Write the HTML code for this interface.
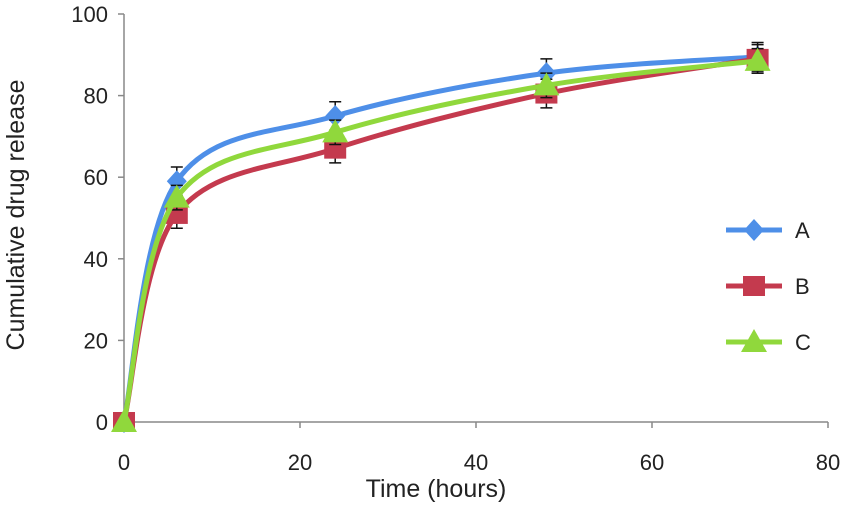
<!DOCTYPE html>
<html><head><meta charset="utf-8"><style>
body{margin:0;background:#fff;}
svg{display:block;font-family:"Liberation Sans",sans-serif;}
</style></head><body>
<svg id="chart" width="855" height="515"></svg>
<script>
const timePoints=[0,6,24,48,72];
const seriesNames=['A','B','C'];
const seriesA=[0,59,75,85.5,89.5];
const seriesB=[0,51,67,80.5,89];
const seriesC=[0,55,71,82.5,88.5];
const errA=[0,3.5,3.5,3.5,3.5];
const errB=[0,3.5,3.5,3.5,3.5];
const errC=[0,3,3,3,3];
const xTicks=[0,20,40,60,80];
const yTicks=[0,20,40,60,80,100];
const NS='http://www.w3.org/2000/svg';
const svg=document.getElementById('chart');
const X0=124,XW=704,Y0=422,YH=408;
const xs=v=>X0+v/80*XW, ys=v=>Y0-v/100*YH;
function mk(t,a,p){const e=document.createElementNS(NS,t);for(const k in a)e.setAttribute(k,a[k]);(p||svg).appendChild(e);return e;}
let ax=mk('line',{x1:X0,y1:14,x2:X0,y2:Y0,stroke:'#888','stroke-width':1.5});

let bx=mk('line',{x1:X0,y1:Y0,x2:X0+XW,y2:Y0,stroke:'#888','stroke-width':1.5});

yTicks.forEach(v=>{mk('line',{x1:X0-6,y1:ys(v),x2:X0,y2:ys(v),stroke:'#888','stroke-width':1.5});
 const t=mk('text',{x:X0-16,y:ys(v)+8,'text-anchor':'end','font-size':22,fill:'#222'});t.textContent=v;
 });
xTicks.forEach(v=>{mk('line',{x1:xs(v),y1:Y0,x2:xs(v),y2:Y0+6,stroke:'#888','stroke-width':1.5});
 const t=mk('text',{x:xs(v),y:470,'text-anchor':'middle','font-size':22,fill:'#222'});t.textContent=v;
 });
let xt=mk('text',{x:436,y:497,'text-anchor':'middle','font-size':25,fill:'#222'});xt.textContent='Time (hours)';

let yt=mk('text',{x:0,y:0,'text-anchor':'middle','font-size':25,fill:'#222',transform:'translate(24,215) rotate(-90)'});yt.textContent='Cumulative drug release';

const colors=['#4e8fe8','#c43a4e','#90d83c'];
const all=[seriesA,seriesB,seriesC], errs=[errA,errB,errC];
function path(pts){let d=`M${pts[0][0]},${pts[0][1]}`;for(let i=0;i<pts.length-1;i++){const p0=pts[Math.max(i-1,0)],p1=pts[i],p2=pts[i+1],p3=pts[Math.min(i+2,pts.length-1)];
 d+=` C${p1[0]+(p2[0]-p0[0])/6},${p1[1]+(p2[1]-p0[1])/6} ${p2[0]-(p3[0]-p1[0])/6},${p2[1]-(p3[1]-p1[1])/6} ${p2[0]},${p2[1]}`;}return d;}
function marker(k,x,y,g){if(k==0)return mk('polygon',{points:`${x},${y-11} ${x+10},${y} ${x},${y+11} ${x-10},${y}`,fill:colors[0]},g);
 if(k==1)return mk('rect',{x:x-11,y:y-10,width:22,height:20,fill:colors[1]},g);
 return mk('polygon',{points:`${x},${y-13} ${x+13},${y+10} ${x-13},${y+10}`,fill:colors[2]},g);}
all.forEach((s,k)=>{const g=mk('g',{});
 s.forEach((v,i)=>{const x=xs(timePoints[i]);const e=errs[k][i];
  mk('path',{d:`M${x},${ys(v-e)}V${ys(v+e)}M${x-6},${ys(v-e)}h12M${x-6},${ys(v+e)}h12`,stroke:'#111','stroke-width':1.5,fill:'none'},g);});
 mk('path',{d:path(s.map((v,i)=>[xs(timePoints[i]),ys(v)])),stroke:colors[k],'stroke-width':5,fill:'none'},g);
 s.forEach((v,i)=>{const m=marker(k,xs(timePoints[i]),ys(v),g);});
 const ly=230+k*56;const lg=mk('g',{},g);
 mk('line',{x1:726,y1:ly,x2:782,y2:ly,stroke:colors[k],'stroke-width':5},lg);marker(k,754,ly,lg);
 const t=mk('text',{x:795,y:ly+8,'font-size':22,fill:'#222'},lg);t.textContent=seriesNames[k];});
</script>
</body></html>
